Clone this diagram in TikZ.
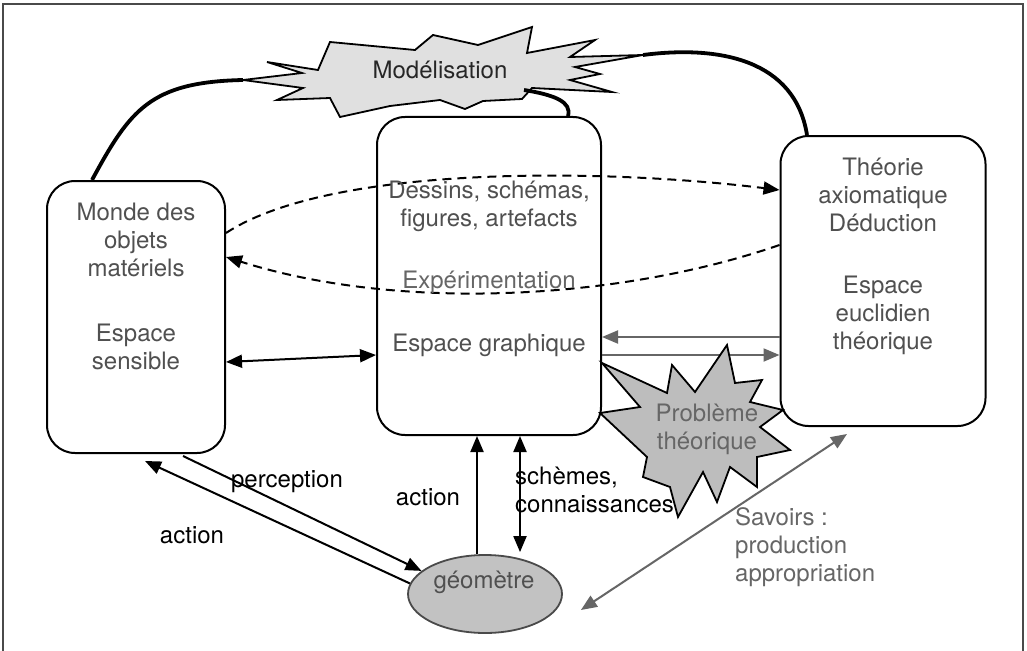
\documentclass[tikz,border=0pt]{standalone}
\usepackage{fontspec}
\setmainfont{TeX Gyre Heros}
\usetikzlibrary{arrows.meta,calc,shapes.geometric}
\definecolor{txtgray}{HTML}{505050}
\definecolor{lgray}{HTML}{666666}
\definecolor{framegray}{HTML}{4A4A4A}
\definecolor{modfill}{HTML}{E0E0E0}
\definecolor{probfill}{HTML}{BDBDBD}
\definecolor{geofill}{HTML}{C2C2C2}
\begin{document}
\begin{tikzpicture}[x=1pt,y=-1pt,
  box/.style={draw, line width=2pt, rounded corners=28pt, inner sep=0pt},
  lbl/.style={font=\fontsize{24}{28}\selectfont, align=center, text=txtgray, inner sep=0pt},
  blbl/.style={font=\fontsize{24}{28}\selectfont, align=left, text=black, inner sep=0pt},
  glbl/.style={font=\fontsize{24}{28}\selectfont, align=left, text=lgray, inner sep=0pt},
  thickcurve/.style={line width=3.8pt},
  arr/.style={line width=2pt, -{Triangle[length=16pt,width=13pt]}},
  darr/.style={line width=2pt, {Triangle[length=16pt,width=13pt]}-{Triangle[length=16pt,width=13pt]}},
  garr/.style={line width=2pt, draw=lgray, -{Triangle[length=16pt,width=13pt]}},
  gdarr/.style={line width=2pt, draw=lgray, {Triangle[length=16pt,width=13pt]}-{Triangle[length=16pt,width=13pt]}},
  dasharr/.style={line width=2pt, dash pattern=on 9pt off 6pt, -{Triangle[length=16pt,width=13pt]}}
]
\useasboundingbox (0,0) rectangle (1027,650);
\fill[white] (0,0) rectangle (1027,650);
% frame
\draw[line width=2pt, framegray] (3,660) -- (3,4) -- (1023,4) -- (1023,660);

% boxes
\node[box, minimum width=178pt, minimum height=272pt] (L) at (136,317) {};
\node[box, minimum width=224pt, minimum height=318pt] (C) at (489,276) {};
\node[box, minimum width=205pt, minimum height=290pt] (R) at (883,281) {};

% Modelisation star
\filldraw[line width=1.8pt, fill=modfill, line join=miter]
  (243,80) -- (302,73) -- (267,62) -- (318,70) -- (330,42) -- (415,50) -- (433,35)
  -- (478,45) -- (532,27) -- (527,53) -- (595,40) -- (570,57) -- (643,55) -- (575,67)
  -- (600,74) -- (570,80) -- (612,92) -- (532,88) -- (522,99) -- (483,101) -- (465,109) -- (440,100)
  -- (390,106) -- (340,117) -- (330,98) -- (277,100) -- (303,88) -- cycle;
\coordinate (Mleft) at (243,80);
\coordinate (Mlowright) at (524,90);
\coordinate (Mright) at (643,55);
\node[font=\fontsize{24}{28}\selectfont, text=black!85] (M) at (440,70) {Modélisation};

% thick curves
\draw[thickcurve] ([xshift=-44pt]L.north) .. controls (130,110) and (150,82) .. (Mleft);
\draw[thickcurve] (Mlowright) .. controls (555,95) and (572,102) .. ([xshift=79pt]C.north);
\draw[thickcurve] (Mright) .. controls (720,45) and (795,60) .. ([xshift=-76pt]R.north);

% dashed curves
\draw[dasharr] ([yshift=84pt]L.east) .. controls (330,165) and (600,168) .. ([yshift=91pt]R.west);
\draw[dasharr] ([yshift=36pt]R.west) .. controls (620,300) and (400,312) .. ([yshift=60pt]L.east);

% L <-> C
\draw[darr] ([yshift=-45pt]L.east) -- ([yshift=-79pt]C.west);
% C <-> R gray
\draw[garr] ([yshift=-56pt]R.west) -- ([yshift=-61pt]C.east);
\draw[garr] ([yshift=-79pt]C.east) -- ([yshift=-74pt]R.west);

% Probleme star
\filldraw[line width=1.8pt, fill=probfill, line join=miter]
  (602,363) -- (667,393) -- (672,365) -- (695,392) -- (727,345) -- (735,383)
  -- (762,380) -- (750,402) -- (783,410) -- (760,427) -- (790,450) -- (757,457)
  -- (757,487) -- (730,467) -- (717,502) -- (703,472) -- (678,517) -- (670,487)
  -- (643,477) -- (647,457) -- (600,413) -- (640,407) -- cycle;
\node[lbl, text=lgray] (P) at (707,429) {Problème\\théorique};

% geometre
\node[ellipse, draw=framegray, line width=1.8pt, fill=geofill, minimum width=154pt, minimum height=78pt] (G) at (485,594) {};
\node[lbl] (Gt) at (484,582) {géomètre};

% arrows to geometre
\draw[arr] ([xshift=47pt,yshift=-2pt]L.south) -- (G.160);
\draw[arr] (G.172) -- ([xshift=9pt,yshift=-7pt]L.south);
\draw[arr] ([xshift=-8pt]G.north) -- ([xshift=-12pt]C.south);
\draw[darr] ([xshift=31pt]C.south) -- ([xshift=35pt,yshift=2pt]G.north);
\draw[gdarr] ([xshift=18pt,yshift=-16pt]G.east) -- ([xshift=-36pt,yshift=-7pt]R.south);

% box texts
\node[lbl] (L1) at (136,240) {Monde des\\objets\\matériels};
\node[lbl] (L2) at (136,347) {Espace\\sensible};
\node[lbl] (C1) at (489,206) {Dessins, schémas,\\figures, artefacts};
\node[lbl, text=lgray] (C2) at (489,282) {Expérimentation};
\node[lbl] (C3) at (489,345) {Espace graphique};
\node[lbl] (R1) at (883,195) {Théorie\\axiomatique\\Déduction};
\node[lbl] (R2) at (883,315) {Espace\\euclidien\\théorique};

% labels
\node[blbl] (perc) at (287,482) {perception};
\node[blbl] (act1) at (192,535) {action};
\node[blbl] (act2) at (428,497) {action};
\node[blbl, anchor=west] (sch) at (515,490) {schèmes,\\connaissances};
\node[glbl, anchor=west] (sav) at (735,547) {Savoirs :\\production\\appropriation};
\end{tikzpicture}
\end{document}
